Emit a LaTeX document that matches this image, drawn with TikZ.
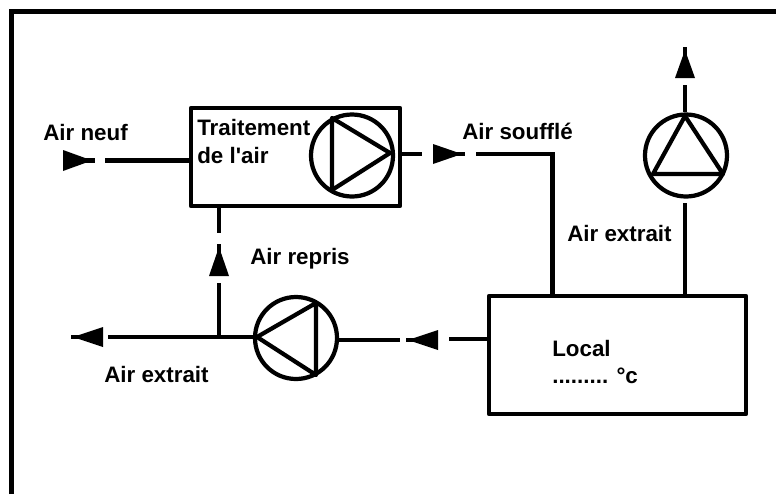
\documentclass[tikz,border=0pt]{standalone}
\usepackage{fontspec}
\setmainfont{Liberation Sans}
\usetikzlibrary{calc}
\tikzset{
  cta frame/.style={draw=black, line width=3.4pt, line join=miter},
  cta box/.style={draw=black, line width=3pt, rectangle, inner sep=0pt, line join=round},
  cta pipe/.style={draw=black, line width=3pt},
  cta pump/.style={circle, draw=black, line width=3pt, minimum size=82*.025cm, inner sep=0pt},
  cta tri/.style={draw=black, line width=3pt, line join=round},
  cta head/.style={fill=black, draw=none},
  cta label/.style={font=\fontsize{15.9pt}{18pt}\selectfont\bfseries, text=black, inner sep=0pt, align=left},
}
\begin{document}
\begin{tikzpicture}[x=.025cm,y=-.025cm]
\useasboundingbox (0,0) rectangle (776,494);
\fill[white] (0,0) rectangle (776,494);
\coordinate (fa) at (11.5,494);\coordinate (fb) at (11.5,11.5);\coordinate (fc) at (776,11.5);
\draw[cta frame] (fa)--(fb)--(fc);
% boxes
\node[cta box,minimum width=209*.025cm,minimum height=98*.025cm] (traitement) at (295.5,157) {};
\node[cta box,minimum width=257*.025cm,minimum height=118*.025cm] (local) at (617.5,355) {};
% pumps
\node[cta pump] (pumpA) at (352,155.5) {};
\node[cta pump] (pumpB) at (686,155.5) {};
\node[cta pump] (pumpC) at (296,338) {};
\draw[cta tri] (332,118)--(332,190)--(390,153)--cycle;
\draw[cta tri] (685,116)--(653,174)--(723,174)--cycle;
\draw[cta tri] (257,337)--(316,303)--(316,375)--cycle;
% air neuf
\coordinate (neufEnd) at (95,160.5);\coordinate (neufStart) at (105,160.5);
\fill[cta head] (63,150)--(92,160.5)--(63,171)--cycle;
\draw[cta pipe] (80,160.5)--(neufEnd);
\draw[cta pipe] (neufStart)--(traitement.west |- neufStart);
\node[cta label,anchor=base west] (neuf) at (43,140) {Air neuf};
% air souffle
\coordinate (soufA) at (422,154);\coordinate (soufB) at (476,154);\coordinate (soufC) at (552.5,154);
\draw[cta pipe] (traitement.east |- soufA)--(soufA);
\fill[cta head] (433,144)--(462,154)--(433,164)--cycle;
\draw[cta pipe] (450,154)--(465,154);
\draw[cta pipe] (soufB)--(soufC)--(soufC |- local.north);
\node[cta label,anchor=base west] (souffle) at (462,139) {Air soufflé};
% extraction
\coordinate (extTop) at (685,47);\coordinate (extA) at (685,85);
\draw[cta pipe] (extTop)--(685,60);
\fill[cta head] (675,78)--(685,50)--(695,78)--cycle;
\draw[cta pipe] (extA)--(pumpB.north -| extA);
\coordinate (extB) at (685,203);
\draw[cta pipe] (extB)--(extB |- local.north);
\node[cta label,anchor=base west] (extrait) at (567,241) {Air extrait};
% reprise
\coordinate (repA) at (219,233);\coordinate (repB) at (219,283);\coordinate (junction) at (219,337);
\draw[cta pipe] (repA |- traitement.south)--(repA);
\draw[cta pipe] (219,244)--(219,258);
\fill[cta head] (209,276)--(219,247)--(229,276)--cycle;
\draw[cta pipe] (repB)--(junction);
\node[cta label,anchor=base west] (repris) at (250,264) {Air repris};
% rejet
\coordinate (rejEnd) at (108,337);
\draw[cta pipe] (rejEnd)--(pumpC.west |- rejEnd);
\draw[cta pipe] (71,337)--(85,337);
\fill[cta head] (73,337)--(103,327)--(103,347)--cycle;
\node[cta label,anchor=base west] (extraitB) at (104,382) {Air extrait};
% retour
\coordinate (retA) at (400,340);\coordinate (retB) at (449,339);
\draw[cta pipe] (pumpC.east |- retA)--(retA);
\draw[cta pipe] (406,340)--(420,340);
\fill[cta head] (408,340)--(438,330)--(438,350)--cycle;
\draw[cta pipe] (retB)--(local.west |- retB);
% texts
\node[cta label,anchor=base west] (traitA) at (197,135) {Traitement};
\node[cta label,anchor=base west] (traitB) at (197,163) {de l\textquotesingle air};
\node[cta label,anchor=base west] (localA) at (552,356) {Local};
\node[cta label,anchor=base west] (localB) at (552,383) {......... °c};
\end{tikzpicture}
\end{document}
